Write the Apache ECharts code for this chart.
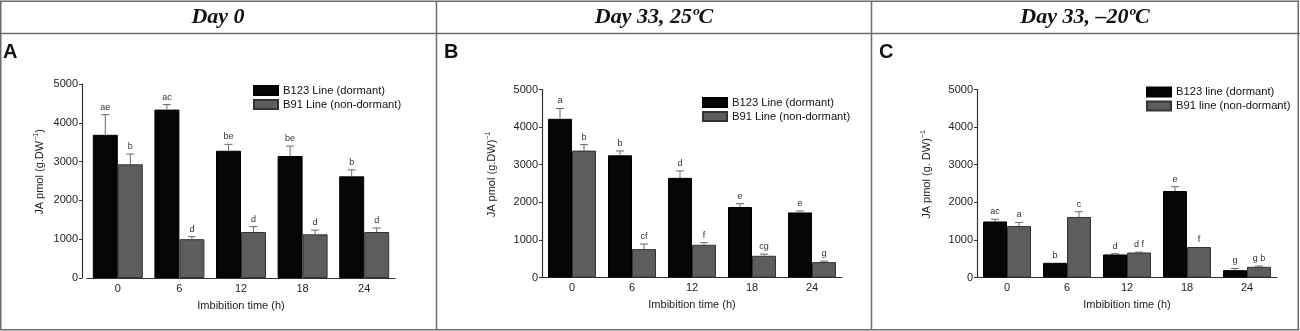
<!DOCTYPE html>
<html>
<head>
<meta charset="utf-8">
<script src="https://cdn.jsdelivr.net/npm/echarts@6/dist/echarts.min.js"></script>
<style>html,body{margin:0;padding:0;background:#fff}#c{width:1300px;height:331px}</style>
</head>
<body>
<div id="c"></div>
<script>
// ---- data ----
const categories = ['0', '6', '12', '18', '24'];
const yTicks = [0, 1000, 2000, 3000, 4000, 5000];
const panelTitles = ['Day 0', 'Day 33, 25ºC', 'Day 33, \u201320ºC'];
const panelLetters = ['A', 'B', 'C'];

// Panel A (Day 0)
const aDormant = [3690, 4340, 3280, 3145, 2620];
const aDormantSD = [520, 130, 165, 255, 165];
const aDormantLetters = ['ae', 'ac', 'be', 'be', 'b'];
const aNonDormant = [2930, 1000, 1185, 1125, 1185];
const aNonDormantSD = [265, 65, 140, 110, 105];
const aNonDormantLetters = ['b', 'd', 'd', 'd', 'd'];

// Panel B (Day 33, 25ºC)
const bDormant = [4220, 3250, 2650, 1875, 1730];
const bDormantSD = [275, 115, 185, 90, 40];
const bDormantLetters = ['a', 'b', 'd', 'e', 'e'];
const bNonDormant = [3375, 755, 870, 578, 410];
const bNonDormantSD = [160, 135, 55, 45, 25];
const bNonDormantLetters = ['b', 'cf', 'f', 'cg', 'g'];

// Panel C (Day 33, -20ºC)
const cDormant = [1490, 390, 613, 2300, 195];
const cDormantSD = [60, 0, 18, 115, 45];
const cDormantLetters = ['ac', 'b', 'd', 'e', 'g'];
const cNonDormant = [1370, 1610, 665, 810, 285];
const cNonDormantSD = [95, 140, 10, 0, 18];
const cNonDormantLetters = ['a', 'c', 'd f', 'f', 'g b'];

const seriesNamesAB = ['B123 Line (dormant)', 'B91 Line (non-dormant)'];
const seriesNamesC = ['B123 line (dormant)', 'B91 line (non-dormant)'];
const yNames = [
  ['JA pmol (g.DW', '{s|\u22121}', ')'],
  ['JA pmol (g.DW)', '{s|\u22121}'],
  ['JA pmol (g. DW)', '{s|\u22121}']
];

// ---- chart ----
const FONT = 'Liberation Sans';
const BLACK = '#050505';
const GRAY = '#5d5d5d';

const panels = [
  { d: aDormant, dsd: aDormantSD, dl: aDormantLetters, n: aNonDormant, nsd: aNonDormantSD, nl: aNonDormantLetters, names: seriesNamesAB,
    grid: { left: 87, width: 308, top: 84, height: 194 }, bw: 25, yOffset: 5, nameGap: 36, legend: { left: 253, top: 84.5 } },
  { d: bDormant, dsd: bDormantSD, dl: bDormantLetters, n: bNonDormant, nsd: bNonDormantSD, nl: bNonDormantLetters, names: seriesNamesAB,
    grid: { left: 542, width: 300, top: 89.5, height: 188 }, bw: 24, yOffset: 0, nameGap: 44, legend: { left: 702, top: 96.5 } },
  { d: cDormant, dsd: cDormantSD, dl: cDormantLetters, n: cNonDormant, nsd: cNonDormantSD, nl: cNonDormantLetters, names: seriesNamesC,
    grid: { left: 977, width: 300, top: 89.5, height: 188 }, bw: 24, yOffset: 0, nameGap: 44, legend: { left: 1146, top: 86 } }
];

function errSeries(pi, vals, sds, letters, sign, bw) {
  return {
    type: 'custom', xAxisIndex: pi, yAxisIndex: pi, z: 10, silent: true,
    data: vals.map((v, i) => [i, v, v + sds[i]]),
    encode: { x: 0, y: [1, 2] },
    renderItem: function (params, api) {
      const i = api.value(0);
      const base = api.coord([i, api.value(1)]);
      const top = api.coord([i, api.value(2)]);
      const x = base[0] + sign * bw / 2;
      const children = [];
      const sd = sds[params.dataIndex];
      if (sd > 0) {
        children.push({ type: 'line', shape: { x1: x, y1: base[1], x2: x, y2: top[1] }, style: { stroke: '#6a6a6a', lineWidth: 1 } });
        children.push({ type: 'line', shape: { x1: x - 4, y1: top[1], x2: x + 4, y2: top[1] }, style: { stroke: '#6a6a6a', lineWidth: 1 } });
      }
      children.push({ type: 'text', x: x, y: top[1] - 3,
        style: { text: letters[params.dataIndex], font: '9px ' + FONT, fill: '#333', align: 'center', verticalAlign: 'bottom' } });
      return { type: 'group', children: children };
    }
  };
}

const option = {
  animation: false,
  backgroundColor: '#fff',
  grid: panels.map(p => Object.assign({ containLabel: false }, p.grid)),
  xAxis: panels.map((p, i) => ({
    type: 'category', gridIndex: i, data: categories,
    name: 'Imbibition time (h)', nameLocation: 'middle', nameGap: 22,
    nameTextStyle: { fontFamily: FONT, fontSize: 11, color: '#222' },
    axisLine: { lineStyle: { color: '#333', width: 1.2 } },
    axisTick: { show: false },
    axisLabel: { fontFamily: FONT, fontSize: 11, color: '#222', margin: 5 }
  })),
  yAxis: panels.map((p, i) => ({
    type: 'value', gridIndex: i, min: 0, max: 5000, interval: 1000, offset: p.yOffset,
    name: yNames[i].join(''), nameLocation: 'middle', nameGap: p.nameGap,
    nameTextStyle: { fontFamily: FONT, fontSize: 11, color: '#222', padding: [0, 0, 0, 18],
      rich: { s: { fontFamily: FONT, fontSize: 7, color: '#222', verticalAlign: 'top', padding: [0, 0, 6, 0] } } },
    axisLine: { show: true, lineStyle: { color: '#333', width: 1.2 } },
    axisTick: { show: true, length: 3, lineStyle: { color: '#333' } },
    axisLabel: { fontFamily: FONT, fontSize: 11, color: '#222', margin: 4,
      formatter: v => (yTicks.indexOf(v) >= 0 ? String(v) : '') },
    splitLine: { show: false }
  })),
  legend: panels.map(p => ({
    data: p.names, orient: 'vertical', left: p.legend.left, top: p.legend.top,
    icon: 'rect', itemWidth: 24, itemHeight: 9, itemGap: 2, padding: 0,
    textStyle: { fontFamily: FONT, fontSize: 11.2, lineHeight: 12, color: '#111' },
    selectedMode: false
  })),
  series: [],
  graphic: []
};

panels.forEach((p, i) => {
  option.series.push({
    type: 'bar', name: p.names[0], xAxisIndex: i, yAxisIndex: i, data: p.d,
    barWidth: p.bw, barGap: '0%',
    itemStyle: { color: BLACK, borderColor: '#000', borderWidth: 1 }
  });
  option.series.push({
    type: 'bar', name: p.names[1], xAxisIndex: i, yAxisIndex: i, data: p.n,
    barWidth: p.bw, barGap: '0%',
    itemStyle: { color: GRAY, borderColor: '#333', borderWidth: 1 }
  });
  option.series.push(errSeries(i, p.d, p.dsd, p.dl, -1, p.bw));
  option.series.push(errSeries(i, p.n, p.nsd, p.nl, 1, p.bw));
});

// frame / table lines
const frameStroke = { stroke: '#6b6b6b', lineWidth: 1.5 };
option.graphic.push({ type: 'rect', shape: { x: 0.75, y: 1.25, width: 1297.5, height: 328.5 }, style: { fill: null, stroke: '#6b6b6b', lineWidth: 1.5 }, silent: true });
option.graphic.push({ type: 'line', shape: { x1: 0, y1: 33.5, x2: 1300, y2: 33.5 }, style: frameStroke, silent: true });
option.graphic.push({ type: 'line', shape: { x1: 436.5, y1: 1, x2: 436.5, y2: 330 }, style: frameStroke, silent: true });
option.graphic.push({ type: 'line', shape: { x1: 871.5, y1: 1, x2: 871.5, y2: 330 }, style: frameStroke, silent: true });

const titleCenters = [218, 654, 1085];
panelTitles.forEach((t, i) => {
  option.graphic.push({ type: 'text', x: titleCenters[i], y: 17, silent: true,
    style: { text: t, font: 'italic bold 22px "Liberation Serif"', fill: '#111', align: 'center', verticalAlign: 'middle' } });
});
const letterX = [3, 444, 879];
panelLetters.forEach((t, i) => {
  option.graphic.push({ type: 'text', x: letterX[i], y: 52, silent: true,
    style: { text: t, font: 'bold 20px ' + FONT, fill: '#111', align: 'left', verticalAlign: 'middle' } });
});

const chart = echarts.init(document.getElementById('c'), null, { renderer: 'canvas' });
chart.setOption(option);
</script>
</body>
</html>
